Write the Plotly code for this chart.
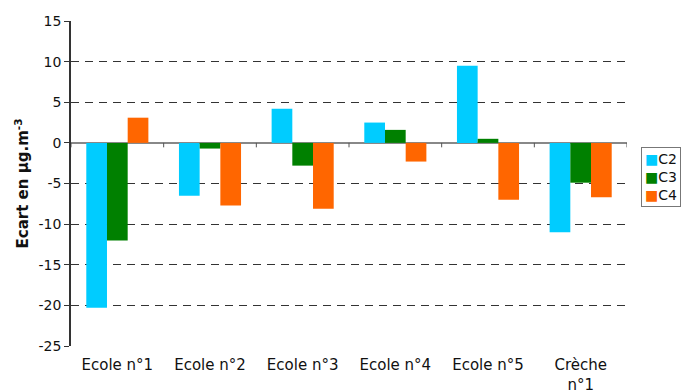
import plotly.graph_objects as go

# Ecart par site et par campagne (µg.m-3)
categories = ["Ecole n°1", "Ecole n°2", "Ecole n°3", "Ecole n°4", "Ecole n°5", "Crèche<br>n°1"]
c2 = [-20.3, -6.5, 4.2, 2.5, 9.5, -11.0]
c3 = [-12.0, -0.7, -2.8, 1.6, 0.5, -4.9]
c4 = [3.1, -7.7, -8.1, -2.3, -7.0, -6.7]
series_names = ["C2", "C3", "C4"]
series_colors = ["#00CCFF", "#008000", "#FF6600"]
y_ticks = [15, 10, 5, 0, -5, -10, -15, -20, -25]
y_labels = [str(v) for v in y_ticks]

font_family = "DejaVu Sans, Verdana, sans-serif"

fig = go.Figure()
for name, vals, col in zip(series_names, [c2, c3, c4], series_colors):
    fig.add_trace(go.Bar(x=categories, y=vals, name=name, showlegend=False,
                         marker=dict(color=col, line=dict(width=0))))

# small tick marks along the category axis (at y = 0, between categories)
for i in range(len(categories) + 1):
    fig.add_shape(type="line", xref="x", yref="y",
                  x0=i - 0.5, x1=i - 0.5, y0=0, y1=-0.55,
                  line=dict(color="#555555", width=1))

# compact boxed legend with small square keys
legend_text = "<br>".join(
    f"<span style='color:{col}'>■</span>{name}"
    for name, col in zip(series_names, series_colors)
)
fig.add_annotation(xref="paper", yref="paper", x=1.026, y=0.612,
                   xanchor="left", yanchor="top", align="left",
                   text=legend_text, showarrow=False,
                   font=dict(size=14, family=font_family, color="#111111"),
                   bordercolor="#777777", borderwidth=1, borderpad=3,
                   bgcolor="white")

fig.update_layout(
    width=685, height=392,
    margin=dict(l=71, r=58, t=21, b=46, autoexpand=False),
    paper_bgcolor="white", plot_bgcolor="white",
    barmode="group", bargap=0.33, bargroupgap=0,
    font=dict(family=font_family, size=13, color="#111111"),
    showlegend=False,
)
fig.update_xaxes(showgrid=False, showline=False, ticks="",
                 tickfont=dict(size=15), ticklabelstandoff=8,
                 range=[-0.5, 5.5])
fig.update_yaxes(range=[-25, 15], tickvals=y_ticks, ticktext=y_labels,
                 showgrid=True, gridcolor="#333333", griddash="8px,6px", gridwidth=1,
                 zeroline=True, zerolinecolor="#888888", zerolinewidth=1.5,
                 showline=True, linecolor="#333333", linewidth=1.5,
                 ticks="outside", ticklen=5, tickcolor="#333333",
                 tickfont=dict(size=14),
                 title=dict(text="<b>Ecart en µg.m<sup>-3</sup></b>",
                            font=dict(size=15), standoff=6))

fig.write_html("out.html")
